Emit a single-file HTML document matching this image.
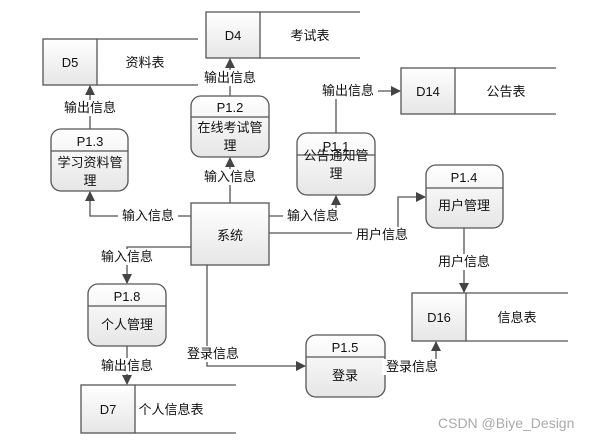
<!DOCTYPE html>
<html><head><meta charset="utf-8"><style>
html,body{margin:0;padding:0;background:#fff}
svg text{font-family:"Liberation Sans","Noto Sans CJK SC",sans-serif;font-size:13px;fill:#111}
</style></head><body>
<svg width="606" height="442" viewBox="0 0 606 442" xmlns="http://www.w3.org/2000/svg">
<defs>
<linearGradient id="g" x1="0" y1="0" x2="0" y2="1"><stop offset="0" stop-color="#fff"/><stop offset="1" stop-color="#e6e6e6"/></linearGradient>
<marker id="a" markerWidth="10" markerHeight="10" refX="9" refY="5" orient="auto" markerUnits="userSpaceOnUse"><path d="M0,0 L10,5 L0,10 z" fill="#444"/></marker>
</defs>
<g stroke="#555" stroke-width="1.3" fill="none">
<rect x="43" y="39" width="54" height="46" fill="url(#g)"/><path d="M97,39H198M97,85H198"/>
<rect x="206" y="12" width="54" height="46" fill="url(#g)"/><path d="M260,12H360M260,58H360"/>
<rect x="401" y="68" width="54" height="46" fill="url(#g)"/><path d="M455,68H556M455,114H556"/>
<rect x="412" y="293" width="54" height="48" fill="url(#g)"/><path d="M466,293H568M466,341H568"/>
<rect x="81" y="385" width="54" height="48" fill="url(#g)"/><path d="M135,385H236M135,433H236"/>
<rect x="51" y="129" width="77" height="62" rx="10" fill="url(#g)"/><path d="M51,151H128"/>
<rect x="191" y="96" width="78" height="61" rx="10" fill="url(#g)"/><path d="M191,117H269"/>
<rect x="297" y="133" width="78" height="62" rx="10" fill="url(#g)"/><path d="M297,155H375"/>
<rect x="426" y="165" width="77" height="63" rx="10" fill="url(#g)"/><path d="M426,188H503"/>
<rect x="88" y="284" width="78" height="62" rx="10" fill="url(#g)"/><path d="M88,306H166"/>
<rect x="306" y="335" width="79" height="62" rx="10" fill="url(#g)"/><path d="M306,357H385"/>
<rect x="191" y="203" width="78" height="62" fill="url(#g)"/>
<path d="M90,129V86" marker-end="url(#a)"/>
<path d="M191,216H90V192" marker-end="url(#a)"/>
<path d="M230,203V158" marker-end="url(#a)"/>
<path d="M230,96V59" marker-end="url(#a)"/>
<path d="M269,216H336V196" marker-end="url(#a)"/>
<path d="M336,133V91H400" marker-end="url(#a)"/>
<path d="M269,233H398V197H425" marker-end="url(#a)"/>
<path d="M464,228V292" marker-end="url(#a)"/>
<path d="M191,247H127V283" marker-end="url(#a)"/>
<path d="M127,346V384" marker-end="url(#a)"/>
<path d="M207,265V366H305" marker-end="url(#a)"/>
<path d="M436,366V342" marker-end="url(#a)"/>
</g>
<g text-anchor="middle">
<text x="70" y="67">D5</text><text x="145" y="67">资料表</text>
<text x="233" y="40">D4</text><text x="310" y="40">考试表</text>
<text x="428" y="96">D14</text><text x="506" y="96">公告表</text>
<text x="439" y="322">D16</text><text x="517" y="322">信息表</text>
<text x="108" y="414">D7</text><text x="171" y="414">个人信息表</text>
<text x="90" y="146">P1.3</text><text x="90" y="167">学习资料管</text><text x="90" y="185">理</text>
<text x="230" y="112">P1.2</text><text x="230" y="132">在线考试管</text><text x="230" y="150">理</text>
<text x="336" y="151">P1.1</text><text x="336" y="160">公告通知管</text><text x="336" y="178">理</text>
<text x="464" y="182">P1.4</text><text x="464" y="210">用户管理</text>
<text x="127" y="301">P1.8</text><text x="127" y="329">个人管理</text>
<text x="345" y="352">P1.5</text><text x="345" y="380">登录</text>
<text x="230" y="240">系统</text>
</g>
<g text-anchor="middle">
<rect x="60" y="100" width="60" height="16" fill="#fff"/><text x="90" y="112">输出信息</text>
<rect x="118" y="208" width="60" height="16" fill="#fff"/><text x="148" y="220">输入信息</text>
<rect x="200" y="169" width="60" height="16" fill="#fff"/><text x="230" y="181">输入信息</text>
<rect x="200" y="70" width="60" height="16" fill="#fff"/><text x="230" y="82">输出信息</text>
<rect x="283" y="208" width="60" height="16" fill="#fff"/><text x="313" y="220">输入信息</text>
<rect x="318" y="83" width="60" height="16" fill="#fff"/><text x="348" y="95">输出信息</text>
<rect x="352" y="227" width="60" height="16" fill="#fff"/><text x="382" y="239">用户信息</text>
<rect x="434" y="254" width="60" height="16" fill="#fff"/><text x="464" y="266">用户信息</text>
<rect x="97" y="249" width="60" height="16" fill="#fff"/><text x="127" y="261">输入信息</text>
<rect x="97" y="358" width="60" height="16" fill="#fff"/><text x="127" y="370">输出信息</text>
<rect x="183" y="346" width="60" height="16" fill="#fff"/><text x="213" y="358">登录信息</text>
<rect x="382" y="359" width="60" height="16" fill="#fff"/><text x="412" y="371">登录信息</text>
</g>
<text x="438" y="428" style="font-size:14px;fill:#aaa">CSDN @Biye_Design</text>
</svg>
</body></html>
